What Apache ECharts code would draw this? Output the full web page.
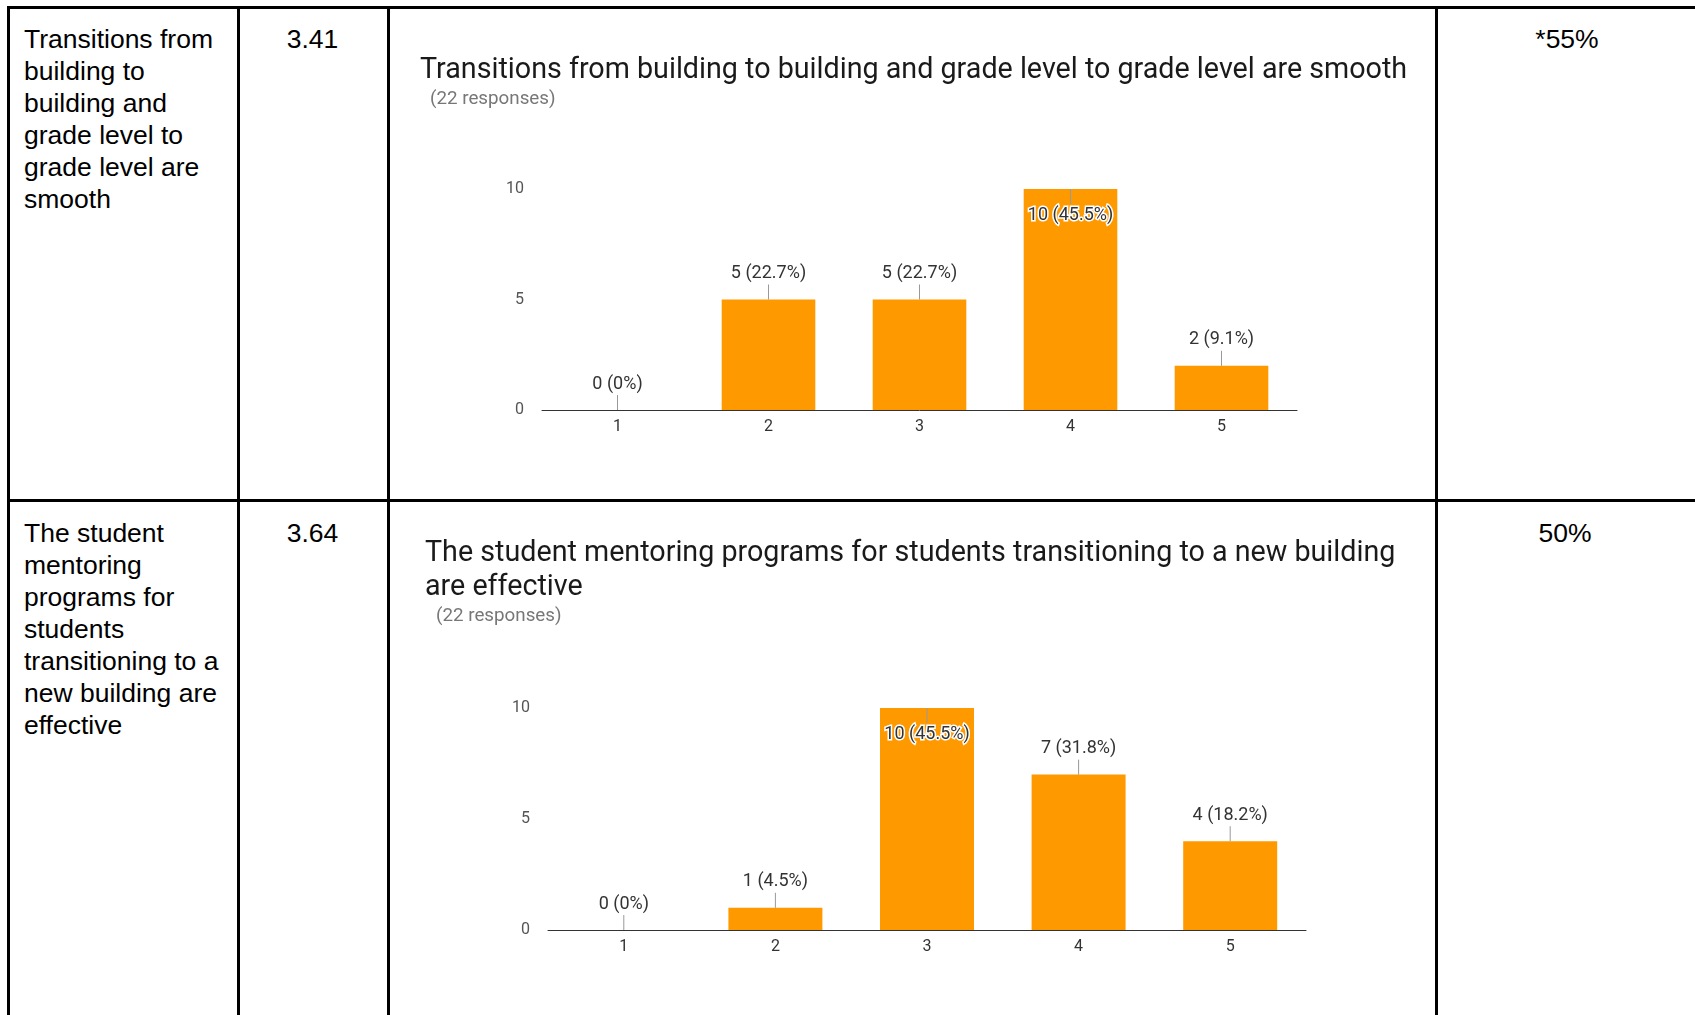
<!DOCTYPE html>
<html>
<head>
<meta charset="utf-8">
<title>Survey transitions</title>
<script src="https://cdn.jsdelivr.net/npm/echarts@6/dist/echarts.min.js"></script>
<style>
  html, body { margin: 0; padding: 0; background: #fff; }
  body { width: 1695px; height: 1015px; position: relative; overflow: hidden;
         font-family: "Liberation Sans", Arial, sans-serif; color: #000; }
  .ln { position: absolute; background: #000; }
  .cell { position: absolute; font-size: 26.5px; line-height: 32px; }
  .num { text-align: center; }
  .chart { position: absolute; }
</style>
</head>
<body>
  <!-- table grid -->
  <div class="ln" style="left:7px;top:6px;width:1688px;height:3px"></div>
  <div class="ln" style="left:7px;top:499px;width:1688px;height:3px"></div>
  <div class="ln" style="left:7px;top:6px;width:3px;height:1009px"></div>
  <div class="ln" style="left:237px;top:6px;width:3px;height:1009px"></div>
  <div class="ln" style="left:387px;top:6px;width:3px;height:1009px"></div>
  <div class="ln" style="left:1435px;top:6px;width:3px;height:1009px"></div>

  <div class="cell" style="left:24px;top:23px;width:205px">Transitions from building to building and grade level to grade level are smooth</div>
  <div class="cell num" style="left:239px;top:23px;width:147px">3.41</div>
  <div class="cell num" style="left:1439px;top:23px;width:256px">*55%</div>
  <div id="chart-1" class="chart" style="left:390px;top:9px;width:1045px;height:490px"></div>

  <div class="cell" style="left:24px;top:517px;width:205px">The student mentoring programs for students transitioning to a new building are effective</div>
  <div class="cell num" style="left:239px;top:517px;width:147px">3.64</div>
  <div class="cell num" style="left:1437px;top:517px;width:256px">50%</div>
  <div id="chart-2" class="chart" style="left:390px;top:502px;width:1045px;height:513px"></div>

<script>
var CATEGORIES = ["1", "2", "3", "4", "5"];
var COUNTS_1 = [0, 5, 5, 10, 2];
var PCTS_1 = ["0%", "22.7%", "22.7%", "45.5%", "9.1%"];
var COUNTS_2 = [0, 1, 10, 7, 4];
var PCTS_2 = ["0%", "4.5%", "45.5%", "31.8%", "18.2%"];
var Y_TICKS = [0, 5, 10];
var TITLE_1 = "Transitions from building to building and grade level to grade level are smooth";
var TITLE_2 = "The student mentoring programs for students transitioning to a new building\nare effective";
var SUBTITLE = "(22 responses)";

var ORANGE = "#ff9900";
var FONT = "Roboto, 'Liberation Sans', sans-serif";

function annotations(counts, pcts, ymax) {
  return {
    type: "custom",
    silent: true,
    z: 5,
    data: counts.map(function(v, i) { return [i, v]; }),
    renderItem: function(params, api) {
      var v = api.value(1);
      var p = api.coord([api.value(0), v]);
      var inside = v >= ymax;
      var y2 = inside ? p[1] + 15 : p[1] - 15;
      var ty = inside ? p[1] + 26 : p[1] - 26;
      return {
        type: "group",
        children: [
          { type: "line", shape: { x1: p[0], y1: p[1], x2: p[0], y2: y2 },
            style: { stroke: "#999", lineWidth: 1 } },
          { type: "text", x: p[0], y: ty,
            style: { text: v + " (" + pcts[params.dataIndex] + ")",
                     fontFamily: "Roboto", fontSize: 18, fill: "#333",
                     align: "center", verticalAlign: "middle",
                     stroke: inside ? "#fff" : null, lineWidth: inside ? 3 : 0 } }
        ]
      };
    }
  };
}

function buildChart(id, cfg) {
  var chart = echarts.init(document.getElementById(id));
  var ymax = Y_TICKS[Y_TICKS.length - 1];
  chart.setOption({
    animation: false,
    title: [
      { text: cfg.title, left: cfg.titleLeft, top: cfg.titleTop,
        textStyle: { fontFamily: FONT, fontSize: 28.7, fontWeight: "normal", color: "#1a1a1a", lineHeight: 34 } },
      { text: SUBTITLE, left: cfg.subLeft, top: cfg.subTop,
        textStyle: { fontFamily: FONT, fontSize: 18.8, fontWeight: "normal", color: "#777", lineHeight: 20 } }
    ],
    grid: cfg.grid,
    xAxis: {
      type: "category", data: CATEGORIES,
      axisLine: { lineStyle: { color: "#333", width: 1 } },
      axisTick: { show: false },
      axisLabel: { color: "#333", fontSize: 16, fontFamily: FONT, margin: 9 }
    },
    yAxis: {
      type: "value", min: Y_TICKS[0], max: ymax, interval: Y_TICKS[1] - Y_TICKS[0],
      axisLine: { show: false }, axisTick: { show: false }, splitLine: { show: false },
      axisLabel: { color: "#555", fontSize: 16, fontFamily: FONT, margin: 18 }
    },
    series: [
      { type: "bar", data: cfg.counts, barWidth: "62%", itemStyle: { color: ORANGE } },
      annotations(cfg.counts, cfg.pcts, ymax)
    ]
  });
  return chart;
}

buildChart("chart-1", {
  title: TITLE_1, titleLeft: 25, titleTop: 40, subLeft: 35, subTop: 75,
  counts: COUNTS_1, pcts: PCTS_1,
  grid: { left: 152, right: 138, top: 180, bottom: 89 }
});
buildChart("chart-2", {
  title: TITLE_2, titleLeft: 30, titleTop: 30, subLeft: 41, subTop: 99,
  counts: COUNTS_2, pcts: PCTS_2,
  grid: { left: 158, right: 129, top: 206, bottom: 85 }
});
</script>
</body>
</html>
